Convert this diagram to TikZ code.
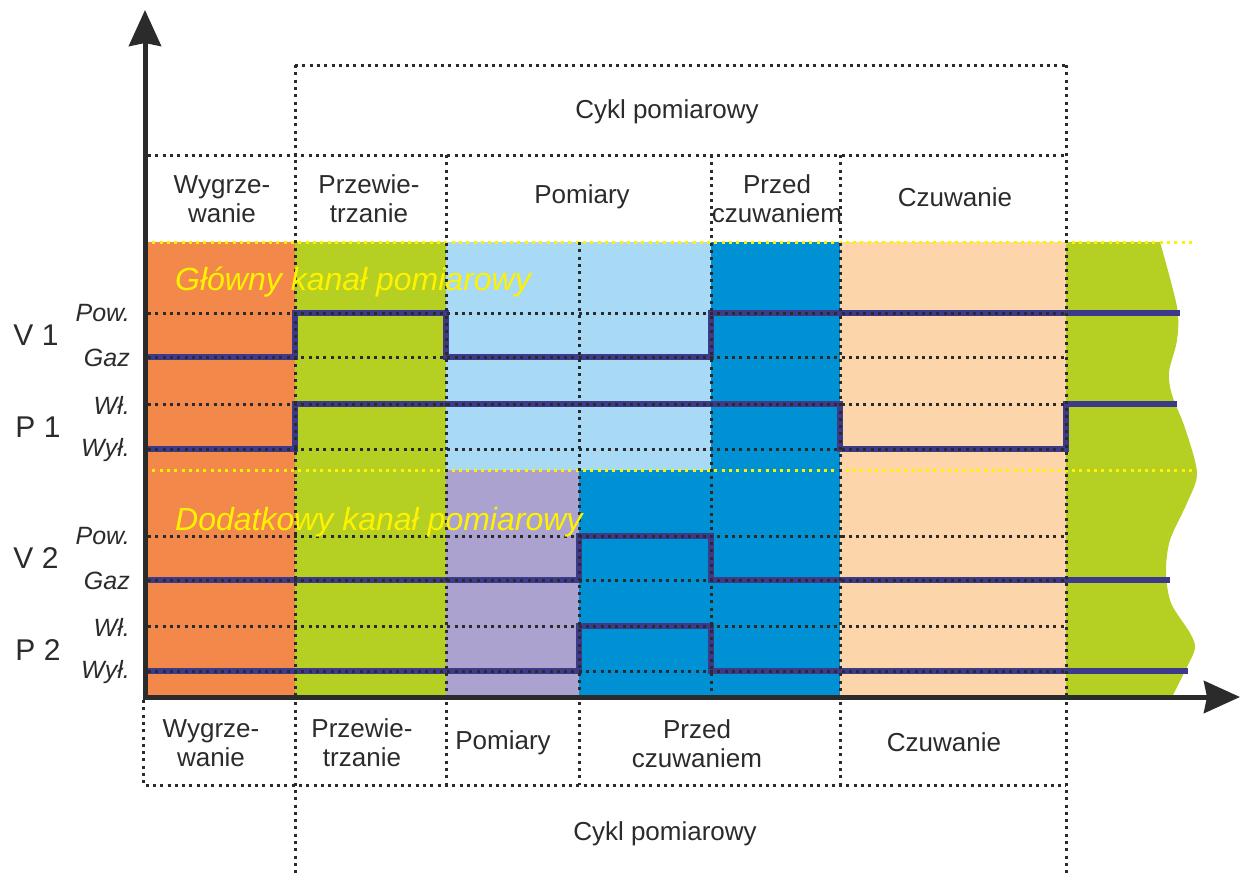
\documentclass[tikz,border=0pt]{standalone}
\usepackage{fontspec}
\setmainfont{Liberation Sans}
\usetikzlibrary{arrows.meta}
\definecolor{corange}{HTML}{F2894A}
\definecolor{cgreen}{HTML}{B5CF22}
\definecolor{clblue}{HTML}{A8DAF5}
\definecolor{cdblue}{HTML}{0090D4}
\definecolor{cpurple}{HTML}{ABA2CF}
\definecolor{cpeach}{HTML}{FCD6AA}
\definecolor{csig}{HTML}{3D3A8C}
\definecolor{cdark}{HTML}{2B2B2B}
\definecolor{cyell}{HTML}{FFF200}
\begin{document}
\begin{tikzpicture}[x=1pt,y=-1pt,
  dotline/.style={cdark,line width=3pt,dash pattern=on 3pt off 4.3pt},
  ydotline/.style={cyell,line width=3pt,dash pattern=on 3pt off 4.3pt},
  sig/.style={csig,line width=5.5pt,line join=miter},
  axisline/.style={cdark,line width=5pt,-{Stealth[length=36pt,width=32pt,inset=3pt]}},
  phase/.style={text=cdark,font=\fontsize{26}{29}\selectfont,align=center,inner sep=0pt},
  chan/.style={text=cdark,font=\fontsize{30}{34}\selectfont,inner sep=0pt},
  state/.style={text=cdark,font=\fontsize{25}{28}\selectfont\itshape,anchor=east,inner sep=0pt},
  ylab/.style={text=cyell,font=\fontsize{32}{36}\selectfont\itshape,anchor=base west,inner sep=0pt}]
\useasboundingbox (0,0) rectangle (1240,873);
% fills
\fill[corange] (145,242) rectangle (295,695);
\fill[cgreen] (295,242) rectangle (446,695);
\fill[clblue] (446,242) rectangle (711,470);
\fill[cdblue] (711,242) rectangle (840,470);
\fill[cpurple] (446,470) rectangle (579,695);
\fill[cdblue] (579,470) rectangle (840,695);
\fill[cpeach] (840,242) rectangle (1066,695);
\fill[cgreen] (1066,695) -- (1066,242) -- plot[smooth] coordinates {(1160,242) (1177,307) (1177,340) (1169,372) (1172,395) (1185,428) (1197,473) (1187,503) (1170,540) (1166,572) (1171,603) (1190,633) (1195,648) (1187,667) (1173,695)} -- cycle;
% signals
\draw[sig] (145,357) -- (295,357) -- (295,313) -- (446,313) -- (446,357) -- (711,357) -- (711,313) -- (1180,313);
\draw[sig] (145,449) -- (295,449) -- (295,404) -- (840,404) -- (840,449) -- (1066,449) -- (1066,404) -- (1177,404);
\draw[sig] (145,580) -- (579,580) -- (579,536) -- (711,536) -- (711,580) -- (1170,580);
\draw[sig] (145,671) -- (579,671) -- (579,626) -- (711,626) -- (711,671) -- (1188,671);
% dotted level lines
\foreach \yy in {313,357,404,449,536,580,626,671}
  \draw[dotline] (148,\yy) -- (1066,\yy);
\draw[ydotline] (145,242) -- (1195,242);
\draw[ydotline] (145,470) -- (1195,470);
% top frame
\draw[dotline] (295,65) -- (1066,65);
\draw[dotline] (148,155) -- (1066,155);
\draw[dotline] (295,65) -- (295,695);
\draw[dotline] (1066,65) -- (1066,695);
\foreach \xx in {446,711,840}
  \draw[dotline] (\xx,155) -- (\xx,695);
\draw[dotline] (579,242) -- (579,695);
% bottom frame
\draw[dotline] (143,700) -- (143,785) -- (1066,785);
\draw[dotline] (295,695) -- (295,873);
\draw[dotline] (1066,695) -- (1066,873);
\foreach \xx in {446,579,840}
  \draw[dotline] (\xx,695) -- (\xx,785);
% axes
\coordinate (O) at (145,697);
\coordinate (ytip) at (145,10);
\coordinate (xtip) at (1240,697);
\draw[axisline] (145,699.5) -- (ytip);
\draw[axisline] (142.5,697) -- (xtip);
% top labels
\node[phase] (cyklT) at (667,112) {Cykl pomiarowy};
\node[phase] (wygT) at (222,199) {Wygrze-\\wanie};
\node[phase] (przT) at (369,199) {Przewie-\\trzanie};
\node[phase] (pomT) at (582,197) {Pomiary};
\node[phase] (przedT) at (777,199) {Przed\\czuwaniem};
\node[phase] (czuT) at (955,197) {Czuwanie};
% bottom labels
\node[phase] (wygB) at (211,743) {Wygrze-\\wanie};
\node[phase] (przB) at (362,743) {Przewie-\\trzanie};
\node[phase] (pomB) at (503,743) {Pomiary};
\node[phase] (przedB) at (697,744) {Przed\\czuwaniem};
\node[phase] (czuB) at (944,742) {Czuwanie};
\node[phase] (cyklB) at (665,834) {Cykl pomiarowy};
% channel labels
\node[chan] (v1) at (36,335) {V 1};
\node[chan] (p1) at (38,427) {P 1};
\node[chan] (v2) at (36,558) {V 2};
\node[chan] (p2) at (38,650) {P 2};
\node[state] (s1) at (130,313) {Pow.};
\node[state] (s2) at (130,358) {Gaz};
\node[state] (s3) at (130,405) {Wł.};
\node[state] (s4) at (130,450) {Wył.};
\node[state] (s5) at (130,536) {Pow.};
\node[state] (s6) at (130,581) {Gaz};
\node[state] (s7) at (130,627) {Wł.};
\node[state] (s8) at (130,672) {Wył.};
% channel titles
\node[ylab] (main) at (175,290) {Główny kanał pomiarowy};
\node[ylab] (extra) at (175,530) {Dodatkowy kanał pomiarowy};
\end{tikzpicture}
\end{document}
